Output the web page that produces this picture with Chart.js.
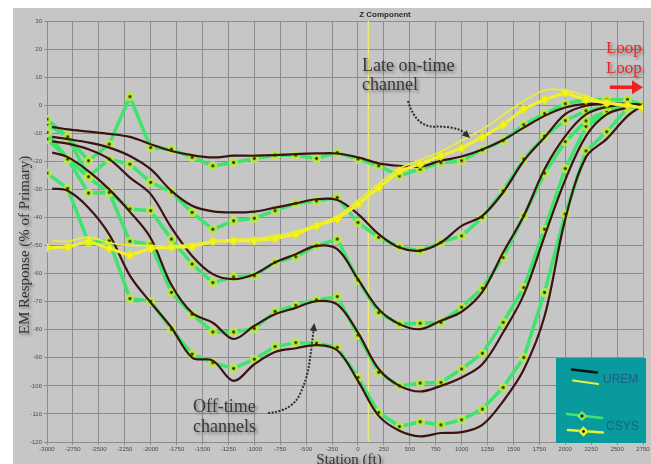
<!DOCTYPE html>
<html>
<head>
<meta charset="utf-8">
<script src="https://cdn.jsdelivr.net/npm/chart.js@4.4.1/dist/chart.umd.min.js"></script>
<style>
  html, body { margin: 0; padding: 0; background: #fff; }
</style>
</head>
<body>
<canvas id="chart" width="651" height="464"></canvas>
<script>
// stations (ft)
const csysX = [-3000, -2800, -2600, -2400, -2200, -2000, -1800, -1600, -1400, -1200, -1000, -800, -600, -400, -200,
  0, 200, 400, 600, 800, 1000, 1200, 1400, 1600, 1800, 2000, 2200, 2400, 2600, 2750];
const uremX = [-2950, -2800, -2600, -2400, -2200, -2000, -1800, -1600, -1400, -1200, -1000, -800, -600, -400, -200,
  0, 200, 400, 600, 800, 1000, 1200, 1400, 1600, 1800, 2000, 2200, 2400, 2600, 2750];

// CSYS off-time channels (% of primary)
const csys1 = [-5, -11.3, -19.8, -13.9, 3, -15.1, -15.7, -18.6, -21.6, -20.4, -19, -17.8, -17.8, -19, -16.9,
  -19.2, -21.6, -25.2, -22.8, -20.5, -19.8, -15.9, -12.6, -7, -3, 0.5, 2, 2, 2, 0];
const csys2 = [-6.8, -11.3, -25.5, -19.2, -21, -27.5, -30.9, -38.2, -44.2, -41.2, -40.3, -37.6, -35, -34.1, -32.9,
  -41.8, -47.1, -50.5, -51.9, -48.9, -46.6, -40, -30.5, -19.2, -11, -5.5, -2, -0.5, 0.5, 0];
const csys3 = [-9.7, -19.2, -31.3, -31.1, -37, -37.6, -47.7, -56.6, -63.2, -61.2, -60.8, -56, -54, -50.1, -47.7,
  -62.3, -73.9, -78, -77.7, -77.4, -72, -65.2, -54.3, -39.4, -24.2, -13, -5.6, -2, 0, 0];
const csys4 = [-12.1, -19, -25.8, -31.1, -48.5, -49.5, -66.7, -74.5, -80.8, -80.8, -79.6, -73.5, -71.3, -69.4, -68.2,
  -81.9, -95.2, -100, -99, -98.8, -94, -88.4, -77.4, -65, -44.2, -22.6, -7.6, -2.5, 0, 0];
const csys5 = [-24.2, -29.7, -48.9, -48.3, -68.9, -69.9, -79.8, -88.7, -91.7, -93.8, -90.5, -86, -84.6, -84.8, -86.3,
  -97, -109.5, -114.5, -112.8, -113.9, -112.1, -108.3, -100.6, -89.9, -66.7, -38.8, -16.3, -9.5, -1, 0];
// CSYS late on-time channel
const csysLate = [-50.8, -50.5, -48.5, -51, -53.5, -51, -50.6, -50.4, -48.5, -48.3, -48.3, -47.5, -46, -43, -40.6,
  -35.3, -29.4, -23.4, -21, -18, -15.3, -11.4, -7, -1.3, 2, 4.4, 2, 0.8, 0, -1];

// UREM off-time channels
const urem1 = [-7.7, -8.6, -9.4, -10.2, -11.3, -13.9, -16.3, -17.8, -18.6, -18, -18, -17.8, -17.4, -17.2, -17.2,
  -18.6, -20.7, -21.6, -21.9, -19.8, -18.3, -15.8, -12.4, -8, -3.8, -0.8, 0.4, 0.4, 0.5, 0];
const urem2 = [-11.3, -12.1, -13.3, -15.1, -18.1, -22.8, -30.5, -35.8, -37.8, -38.2, -37.9, -36.5, -35, -33.5, -33.8,
  -38.8, -45.9, -50.7, -51.8, -48.9, -43, -39.4, -31.1, -19.8, -11.5, -3.2, -0.2, 0.5, 0.5, 0];
const urem3 = [-12.9, -13.7, -15.7, -19.2, -25.8, -31.7, -43.6, -53.7, -60.2, -62, -60.2, -56, -53.1, -50.1, -51.3,
  -62, -72.7, -78, -79.8, -76.8, -73.6, -66.5, -52.5, -39.4, -22.8, -11, -3.3, -0.6, 0.3, 0];
const urem4 = [-16.9, -18.5, -23.5, -30, -38, -47.3, -64, -74, -77.5, -83.3, -78.6, -74.5, -72.2, -69.8, -71,
  -81, -94, -100, -102, -100, -97, -92.3, -81, -67.5, -46.7, -26.6, -11, -3.3, -0.9, 0];
const urem5 = [-29.7, -30.5, -36.5, -46, -60.7, -70.3, -79.2, -89.9, -91, -98.2, -92.3, -87.9, -86.6, -85.5, -87.3,
  -98.2, -110.7, -116, -118, -116.8, -116.5, -113.9, -105.5, -94.2, -75.2, -40.6, -18.5, -12, -3.9, 0];
// UREM late on-time channel
const uremLate = [-48.3, -48.5, -47, -49, -50, -50, -50.2, -49.5, -48.5, -47.8, -47.5, -46.5, -45, -42.5, -39.5,
  -34, -28, -22.5, -19.5, -16.5, -12.6, -8.6, -3.5, 1.5, 5.3, 5.3, 3.3, 0.8, -0.5, -0.5];

// loop edge marker line
const loopEdge = 100;

function pts(xs, ys) {
  return xs.map((x, i) => ({ x: x, y: ys[i] }));
}

// little marker pictures for the CSYS points
function makeMarker(size, shape, fill, edge, dot) {
  const c = document.createElement('canvas');
  c.width = size; c.height = size;
  const g = c.getContext('2d');
  const m = size / 2;
  g.beginPath();
  if (shape === 'diamond') {
    g.moveTo(m, 0.5); g.lineTo(size - 0.5, m); g.lineTo(m, size - 0.5); g.lineTo(0.5, m); g.closePath();
  } else {
    g.arc(m, m, m - 0.5, 0, Math.PI * 2);
  }
  g.fillStyle = fill; g.fill();
  g.strokeStyle = edge; g.lineWidth = 1; g.stroke();
  if (dot) {
    g.beginPath(); g.arc(m, m, 1.4, 0, Math.PI * 2); g.fillStyle = dot; g.fill();
  }
  return c;
}
const greenDot = makeMarker(9, 'circle', '#a9e43c', '#c4ef4a', '#3a1a12');
const yellowDiamond = makeMarker(10, 'diamond', '#f4f41c', '#e2e200', null);

const green = '#3ee46c';
const brown = '#3b1410';

let datasets = [];
[csys1, csys2, csys3, csys4, csys5].forEach(ys => {
  datasets.push({ data: pts(csysX, ys), showLine: true, borderColor: green, borderWidth: 3.5,
    pointStyle: greenDot, pointRadius: 4.5, tension: 0, order: 4 });
});
[urem1, urem2, urem3, urem4, urem5].forEach(ys => {
  datasets.push({ data: pts(uremX, ys), showLine: true, borderColor: brown, borderWidth: 2.2,
    pointRadius: 0, tension: 0.35, order: 3 });
});
datasets.push({ data: pts(csysX, csysLate), showLine: true, borderColor: '#f2f224', borderWidth: 3,
  pointStyle: yellowDiamond, pointRadius: 5, tension: 0, order: 2 });
datasets.push({ data: pts(uremX, uremLate), showLine: true, borderColor: '#eeee30', borderWidth: 1.6,
  pointRadius: 0, tension: 0.3, order: 1 });
datasets.push({ data: [{ x: loopEdge, y: 30 }, { x: loopEdge, y: -120 }], showLine: true,
  borderColor: '#ecec70', borderWidth: 1.3, pointRadius: 0, order: 6 });

// annotations, in data units
const lateText = { x: 39, lines: ['Late on-time', 'channel'], ys: [13.9, 7.1] };
const lateArrow = [[482, 1.5], [530, -3.9], [665, -7.8], [820, -7.5], [984, -8.5], [1061, -11]];
const offText = { x: -1591, lines: ['Off-time', 'channels'], ys: [-107.6, -114.7] };
const offArrow = [[-868, -109.7], [-636, -108.9], [-492, -97.6], [-453, -88], [-424, -78.7]];
const loopText = { x: 2739, ys: [20.3, 13.2] };
const loopArrow = { from: 2430, to: 2750, y: 6.4 };

function dottedArrow(ctx, chart, path) {
  const sx = chart.scales.x, sy = chart.scales.y;
  const p = path.map(q => [sx.getPixelForValue(q[0]), sy.getPixelForValue(q[1])]);
  ctx.save();
  ctx.strokeStyle = '#2e2e2e';
  ctx.lineWidth = 2;
  ctx.setLineDash([2, 1.5]);
  ctx.beginPath();
  ctx.moveTo(p[0][0], p[0][1]);
  for (let i = 1; i < p.length - 1; i++) {
    const mx = (p[i][0] + p[i + 1][0]) / 2, my = (p[i][1] + p[i + 1][1]) / 2;
    ctx.quadraticCurveTo(p[i][0], p[i][1], mx, my);
  }
  const last = p[p.length - 1], prev = p[p.length - 2];
  ctx.lineTo(last[0], last[1]);
  ctx.stroke();
  ctx.setLineDash([]);
  const a = Math.atan2(last[1] - prev[1], last[0] - prev[0]);
  ctx.fillStyle = '#2e2e2e';
  ctx.beginPath();
  ctx.moveTo(last[0] + Math.cos(a) * 3, last[1] + Math.sin(a) * 3);
  ctx.lineTo(last[0] + Math.cos(a + 2.5) * 6, last[1] + Math.sin(a + 2.5) * 6);
  ctx.lineTo(last[0] + Math.cos(a - 2.5) * 6, last[1] + Math.sin(a - 2.5) * 6);
  ctx.closePath();
  ctx.fill();
  ctx.restore();
}

function shadowText(ctx, text, x, y, color) {
  ctx.save();
  ctx.shadowColor = 'rgba(0,0,0,0.4)';
  ctx.shadowBlur = 3;
  ctx.shadowOffsetX = 2;
  ctx.shadowOffsetY = 2;
  ctx.fillStyle = color;
  ctx.fillText(text, x, y);
  ctx.restore();
}

const background = {
  id: 'background',
  beforeDraw(chart) {
    const ctx = chart.ctx;
    ctx.save();
    ctx.fillStyle = '#ffffff';
    ctx.fillRect(0, 0, chart.width, chart.height);
    ctx.fillStyle = '#c6c6c6';
    ctx.fillRect(13, 8, chart.width - 13, chart.height - 8);
    ctx.restore();
  }
};

const decorations = {
  id: 'decorations',
  afterDraw(chart) {
    const ctx = chart.ctx;
    const sx = chart.scales.x, sy = chart.scales.y;

    // title
    ctx.save();
    ctx.font = 'bold 8px "Liberation Sans", Arial, sans-serif';
    ctx.fillStyle = '#2a2a2a';
    ctx.textAlign = 'center';
    ctx.textBaseline = 'middle';
    ctx.fillText('Z Component', 385, 14.5);

    // axis titles
    ctx.font = '15px "Liberation Serif", "Times New Roman", serif';
    ctx.save();
    ctx.translate(25, 245);
    ctx.rotate(-Math.PI / 2);
    shadowText(ctx, 'EM Response (% of Primary)', 0, 0, '#333');
    ctx.restore();
    ctx.textBaseline = 'top';
    shadowText(ctx, 'Station (ft)', 349, 453, '#333');

    // callouts
    ctx.font = '18px "Liberation Serif", "Times New Roman", serif';
    ctx.textAlign = 'left';
    ctx.textBaseline = 'middle';
    lateText.lines.forEach((t, i) => shadowText(ctx, t, sx.getPixelForValue(lateText.x), sy.getPixelForValue(lateText.ys[i]), '#383838'));
    offText.lines.forEach((t, i) => shadowText(ctx, t, sx.getPixelForValue(offText.x), sy.getPixelForValue(offText.ys[i]), '#383838'));
    dottedArrow(ctx, chart, lateArrow);
    dottedArrow(ctx, chart, offArrow);

    // loop label and arrow
    ctx.font = '17px "Liberation Serif", "Times New Roman", serif';
    ctx.textAlign = 'right';
    loopText.ys.forEach(v => shadowText(ctx, 'Loop', sx.getPixelForValue(loopText.x), sy.getPixelForValue(v), '#e82a2a'));
    const ax0 = sx.getPixelForValue(loopArrow.from), ax1 = sx.getPixelForValue(loopArrow.to);
    const ay = sy.getPixelForValue(loopArrow.y);
    ctx.strokeStyle = '#ee2020';
    ctx.fillStyle = '#ee2020';
    ctx.lineWidth = 3.5;
    ctx.beginPath();
    ctx.moveTo(ax0, ay);
    ctx.lineTo(ax1 - 9, ay);
    ctx.stroke();
    ctx.beginPath();
    ctx.moveTo(ax1, ay);
    ctx.lineTo(ax1 - 11, ay - 7);
    ctx.lineTo(ax1 - 11, ay + 7);
    ctx.closePath();
    ctx.fill();

    // legend box
    ctx.fillStyle = '#089a9c';
    ctx.fillRect(556, 358, 90, 85);
    ctx.lineCap = 'round';
    ctx.strokeStyle = '#111';
    ctx.lineWidth = 2.5;
    ctx.beginPath(); ctx.moveTo(572, 369.5); ctx.lineTo(597, 372.5); ctx.stroke();
    ctx.strokeStyle = '#e6f040';
    ctx.lineWidth = 2;
    ctx.beginPath(); ctx.moveTo(573, 380.5); ctx.lineTo(598, 384); ctx.stroke();
    ctx.strokeStyle = green;
    ctx.lineWidth = 2.5;
    ctx.beginPath(); ctx.moveTo(567, 414); ctx.lineTo(602, 418); ctx.stroke();
    ctx.strokeStyle = '#e8f030';
    ctx.beginPath(); ctx.moveTo(568, 430); ctx.lineTo(603, 432.5); ctx.stroke();
    const gd = makeMarker(10, 'diamond', '#5ee46a', '#a8f060', '#111');
    const yd = makeMarker(11, 'diamond', '#f4f41c', '#caca00', '#111');
    ctx.drawImage(gd, 577, 411);
    ctx.drawImage(yd, 578, 426);
    ctx.font = '12px "Liberation Sans", Arial, sans-serif';
    ctx.textAlign = 'left';
    ctx.fillStyle = '#1d5f82';
    ctx.fillText('UREM', 603, 380);
    ctx.fillText('CSYS', 606, 427);
    ctx.restore();
  }
};

const ctx = document.getElementById('chart');
const myChart = new Chart(ctx, {
  type: 'scatter',
  data: { datasets: datasets },
  options: {
    responsive: false,
    animation: false,
    events: [],
    layout: { padding: { left: 0, right: 8, top: 21, bottom: 0 }, autoPadding: false },
    plugins: { legend: { display: false }, tooltip: { enabled: false } },
    scales: {
      x: {
        type: 'linear', min: -3000, max: 2750,
        ticks: { stepSize: 250, autoSkip: false, maxRotation: 0, padding: 1, color: '#4a4a4a',
          font: { size: 6, family: '"Liberation Sans", Arial, sans-serif' },
          callback: v => String(v) },
        grid: { color: '#8c8c8c', lineWidth: 1, tickLength: 3 },
        border: { display: false },
        afterFit: s => { s.height = 22; }
      },
      y: {
        min: -120, max: 30,
        ticks: { stepSize: 10, padding: 2, color: '#4a4a4a',
          font: { size: 6, family: '"Liberation Sans", Arial, sans-serif' },
          callback: v => String(v) },
        grid: { color: '#8c8c8c', lineWidth: 1, tickLength: 3 },
        border: { display: false },
        afterFit: s => { s.width = 47; }
      }
    }
  },
  plugins: [background, decorations]
});
</script>
</body>
</html>
